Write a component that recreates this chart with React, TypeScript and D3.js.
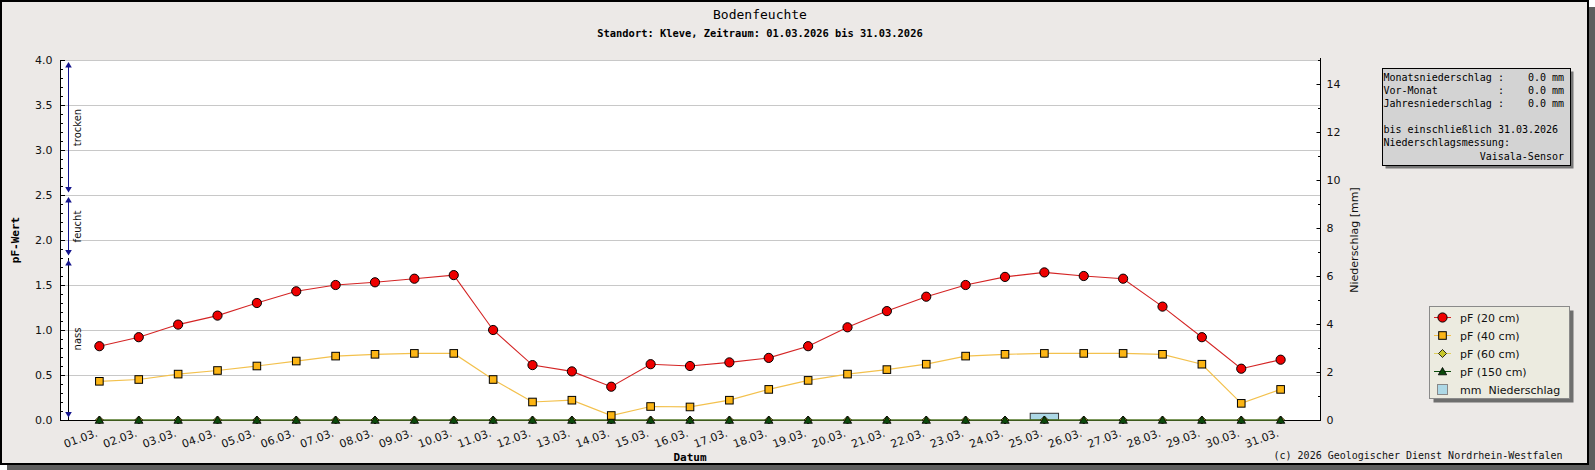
import React from 'react';
import * as d3 from 'd3';

const days = [
  '01.03.', '02.03.', '03.03.', '04.03.', '05.03.', '06.03.', '07.03.', '08.03.',
  '09.03.', '10.03.', '11.03.', '12.03.', '13.03.', '14.03.', '15.03.', '16.03.',
  '17.03.', '18.03.', '19.03.', '20.03.', '21.03.', '22.03.', '23.03.', '24.03.',
  '25.03.', '26.03.', '27.03.', '28.03.', '29.03.', '30.03.', '31.03.',
];
const pF20 = [
  0.82, 0.92, 1.06, 1.16, 1.3, 1.43, 1.5, 1.53, 1.57, 1.61, 1.0, 0.61, 0.54, 0.37, 0.62, 0.6,
  0.64, 0.69, 0.82, 1.03, 1.21, 1.37, 1.5, 1.59, 1.64, 1.6, 1.57, 1.26, 0.92, 0.57, 0.67,
];
const pF40 = [
  0.43, 0.45, 0.51, 0.55, 0.6, 0.655, 0.71, 0.73, 0.74, 0.74, 0.45, 0.2, 0.22, 0.05, 0.15, 0.145,
  0.22, 0.34, 0.44, 0.51, 0.56, 0.62, 0.71, 0.73, 0.74, 0.74, 0.74, 0.73, 0.62, 0.185, 0.34,
];
const pF60 = [
  0, 0, 0, 0, 0, 0, 0, 0, 0, 0, 0, 0, 0, 0, 0, 0,
  0, 0, 0, 0, 0, 0, 0, 0, 0, 0, 0, 0, 0, 0, 0,
];
const pF150 = [
  0, 0, 0, 0, 0, 0, 0, 0, 0, 0, 0, 0, 0, 0, 0, 0,
  0, 0, 0, 0, 0, 0, 0, 0, 0, 0, 0, 0, 0, 0, 0,
];
const precip = [
  0, 0, 0, 0, 0, 0, 0, 0, 0, 0, 0, 0, 0, 0, 0, 0,
  0, 0, 0, 0, 0, 0, 0, 0, 0.28, 0, 0, 0, 0, 0, 0,
];
const pfTicks = [0, 0.5, 1, 1.5, 2, 2.5, 3, 3.5, 4];
const mmTicks = [0, 2, 4, 6, 8, 10, 12, 14];
const ranges = [
  { label: 'trocken', lo: 2.5, hi: 4.0, color: '#14148c' },
  { label: 'feucht', lo: 1.8, hi: 2.5, color: '#14148c' },
  { label: 'nass', lo: 0, hi: 1.8, color: '#000' },
];
const infoLines = [
  'Monatsniederschlag :    0.0 mm',
  'Vor-Monat          :    0.0 mm',
  'Jahresniederschlag :    0.0 mm',
  '',
  'bis einschließlich 31.03.2026',
  'Niederschlagsmessung:',
];
const legendItems = ['pF (20 cm)', 'pF (40 cm)', 'pF (60 cm)', 'pF (150 cm)', 'mm  Niederschlag'];

const W = 1595;
const H = 470;
const left = 60;
const right = 1320;
const top = 60;
const bottom = 420;
const SANS = 'DejaVu Sans';
const MONO = 'DejaVu Sans Mono';
const ARROW = '#14148c';

const x = d3.scaleLinear().domain([0, 32]).range([left, right]);
const yL = d3.scaleLinear().domain([0, 4]).range([bottom, top]);
const yR = d3.scaleLinear().domain([0, 15]).range([bottom, top]);
const step = x(1) - x(0);

const line = d3
  .line<number>()
  .x((_, i) => x(i + 1))
  .y((d) => yL(d));

const circle = (cx: number, cy: number, key: string | number) => (
  <circle key={key} cx={cx} cy={cy} r={4.6} fill="#ee0000" stroke="#000" strokeWidth={1} />
);
const square = (cx: number, cy: number, key: string | number) => (
  <rect key={key} x={cx - 3.8} y={cy - 3.8} width={7.6} height={7.6} fill="#fcb514" stroke="#000" strokeWidth={1} />
);
const diamond = (cx: number, cy: number, key: string | number) => (
  <path key={key} d={`M${cx},${cy - 4}L${cx + 4},${cy}L${cx},${cy + 4}L${cx - 4},${cy}Z`} fill="#c8c82a" stroke="#000" strokeWidth={0.8} />
);
const triangle = (cx: number, cy: number, key: string | number) => (
  <path key={key} d={`M${cx},${cy - 4}L${cx + 4.2},${cy + 3.3}L${cx - 4.2},${cy + 3.3}Z`} fill="#0b4a0b" stroke="#000" strokeWidth={0.8} />
);

const arrowUp = (cx: number, tip: number, c: string, key: string) => (
  <path key={key} d={`M${cx},${tip}L${cx + 3.3},${tip + 5.5}L${cx - 3.3},${tip + 5.5}Z`} fill={c} />
);
const arrowDown = (cx: number, tip: number, c: string, key: string) => (
  <path key={key} d={`M${cx},${tip}L${cx + 3.3},${tip - 5.5}L${cx - 3.3},${tip - 5.5}Z`} fill={c} />
);

const App: React.FC = () => {
  const ax = 68.5;
  return (
    <svg width={W} height={H} style={{ position: 'absolute', left: 0, top: 0 }}>
      {/* frame + shadow */}
      <rect x={7} y={7} width={W - 7} height={H - 7} fill="#5e5e5e" />
      <rect x={1} y={1} width={1587} height={463} fill="#ece9e7" stroke="#000" strokeWidth={2} />

      {/* titles */}
      <text x={760} y={19} textAnchor="middle" fontFamily={MONO} fontSize={13}>Bodenfeuchte</text>
      <text x={760} y={37} textAnchor="middle" fontFamily={MONO} fontSize={10.4} fontWeight="bold">
        Standort: Kleve, Zeitraum: 01.03.2026 bis 31.03.2026
      </text>

      {/* plot area */}
      <rect x={left} y={top} width={right - left} height={bottom - top} fill="#fff" />
      {pfTicks.filter((t) => t > 0).map((t) => (
        <line key={t} x1={left} x2={right} y1={Math.round(yL(t)) + 0.5} y2={Math.round(yL(t)) + 0.5} stroke="#c8c8c8" />
      ))}

      {/* precipitation bars */}
      {precip.map((v, i) =>
        v > 0 ? (
          <rect key={i} x={x(i + 1) - step * 0.36} y={yR(v)} width={step * 0.72} height={bottom - yR(v)} fill="#add8e6" stroke="#333" strokeWidth={1} />
        ) : null,
      )}

      {/* axes */}
      <line x1={left + 0.5} x2={left + 0.5} y1={top} y2={bottom} stroke="#000" />
      <line x1={right + 0.5} x2={right + 0.5} y1={top - 2} y2={bottom} stroke="#000" />
      <line x1={left} x2={right + 1} y1={bottom + 0.5} y2={bottom + 0.5} stroke="#000" />

      {d3.range(0, 41).map((k) => {
        const yy = Math.round(yL(k / 10)) + 0.5;
        return <line key={k} x1={left} x2={left + (k % 5 === 0 ? 5 : 3)} y1={yy} y2={yy} stroke="#000" />;
      })}
      {pfTicks.map((t) => (
        <text key={t} x={52.5} y={yL(t) + 4} textAnchor="end" fontFamily={SANS} fontSize={11} fill="#111">
          {d3.format('.1f')(t)}
        </text>
      ))}
      {d3.range(0, 16).map((k) => {
        const yy = Math.round(yR(k)) + 0.5;
        return <line key={k} x1={right + 1 - (k % 2 === 0 ? 4.5 : 3)} x2={right + 1} y1={yy} y2={yy} stroke="#000" />;
      })}
      {mmTicks.map((t) => (
        <text key={t} x={1326.5} y={yR(t) + 4} fontFamily={SANS} fontSize={11} fill="#111">{t}</text>
      ))}

      {/* pF ranges on left */}
      <line x1={ax} x2={ax} y1={yL(1.8)} y2={bottom} stroke="#000" />
      {ranges.map((r) => {
        const t1 = yL(r.hi) + 2;
        const t2 = yL(r.lo) - 2.5;
        return (
          <g key={r.label}>
            <line x1={ax} x2={ax} y1={t1 + 3} y2={t2 - 3} stroke={r.color} />
            {arrowUp(ax, t1, ARROW, 'u')}
            {arrowDown(ax, t2, ARROW, 'd')}
            <text
              transform={`translate(${ax + 12},${(yL(r.hi) + yL(r.lo)) / 2}) rotate(-90)`}
              textAnchor="middle"
              fontFamily={SANS}
              fontSize={10}
              fill="#111"
            >
              {r.label}
            </text>
          </g>
        );
      })}

      {/* series */}
      <path d={line(pF60) ?? ''} fill="none" stroke="#e0d060" strokeWidth={1} />
      <path d={line(pF150) ?? ''} fill="none" stroke="#0b4a0b" strokeWidth={1} />
      <path d={line(pF40) ?? ''} fill="none" stroke="#f3c14d" strokeWidth={1.2} />
      <path d={line(pF20) ?? ''} fill="none" stroke="#d42424" strokeWidth={1.1} />
      {pF60.map((v, i) => diamond(x(i + 1), yL(v), i))}
      {pF150.map((v, i) => triangle(x(i + 1), yL(v), i))}
      {pF40.map((v, i) => square(x(i + 1), yL(v), i))}
      {pF20.map((v, i) => circle(x(i + 1), yL(v), i))}

      {/* x tick labels */}
      {days.map((d, i) => (
        <text key={d} transform={`translate(${x(i + 1) - 1},436) rotate(-20)`} textAnchor="end" fontFamily={SANS} fontSize={11} fill="#111">
          {d}
        </text>
      ))}

      {/* axis titles */}
      <text transform={`translate(19,${(top + bottom) / 2}) rotate(-90)`} textAnchor="middle" fontFamily={MONO} fontSize={11} fontWeight="bold">
        pF-Wert
      </text>
      <text transform={`translate(1358,${(top + bottom) / 2}) rotate(-90)`} textAnchor="middle" fontFamily={SANS} fontSize={11} fill="#111">
        Niederschlag [mm]
      </text>
      <text x={(left + right) / 2} y={461} textAnchor="middle" fontFamily={MONO} fontSize={11} fontWeight="bold">
        Datum
      </text>
      <text x={1562.5} y={459} textAnchor="end" fontFamily={MONO} fontSize={10} fill="#111">
        (c) 2026 Geologischer Dienst Nordrhein-Westfalen
      </text>

      {/* info box */}
      <rect x={1385.5} y={71.5} width={188} height={97} fill="#777" />
      <rect x={1382.5} y={68.5} width={188} height={97} fill="#d3d3d3" stroke="#000" />
      {infoLines.map((l, i) => (
        <text key={i} x={1383.5} y={81 + i * 13} fontFamily={MONO} fontSize={10} fill="#000" style={{ whiteSpace: 'pre' }}>
          {l}
        </text>
      ))}
      <text x={1564} y={81 + 6 * 13 + 1} textAnchor="end" fontFamily={MONO} fontSize={10} fill="#000">Vaisala-Sensor</text>

      {/* legend */}
      <rect x={1433.5} y={310.5} width={140} height={92} fill="#6e6e6e" />
      <rect x={1429.5} y={306.5} width={140} height={92} fill="#ecebe0" stroke="#8a8a8a" />
      {legendItems.map((lab, i) => {
        const cy = 317.5 + i * 18;
        const cx = 1442.5;
        let mark: React.ReactNode = null;
        if (i === 0) mark = [<line key="l" x1={1434} x2={1451} y1={cy} y2={cy} stroke="#d42424" />, circle(cx, cy, 'm')];
        if (i === 1) mark = [<line key="l" x1={1434} x2={1451} y1={cy} y2={cy} stroke="#f3c14d" />, square(cx, cy, 'm')];
        if (i === 2) mark = [<line key="l" x1={1434} x2={1451} y1={cy} y2={cy} stroke="#e0d060" />, diamond(cx, cy, 'm')];
        if (i === 3) mark = [<line key="l" x1={1434} x2={1451} y1={cy} y2={cy} stroke="#0b4a0b" />, triangle(cx, cy, 'm')];
        if (i === 4) mark = <rect x={cx - 5} y={cy - 5} width={10} height={10} fill="#add8e6" stroke="#888" />;
        return (
          <g key={lab}>
            {mark}
            <text x={1460} y={cy + 4} fontFamily={SANS} fontSize={11} fill="#111" style={{ whiteSpace: 'pre' }}>
              {lab}
            </text>
          </g>
        );
      })}
    </svg>
  );
};

export default App;
